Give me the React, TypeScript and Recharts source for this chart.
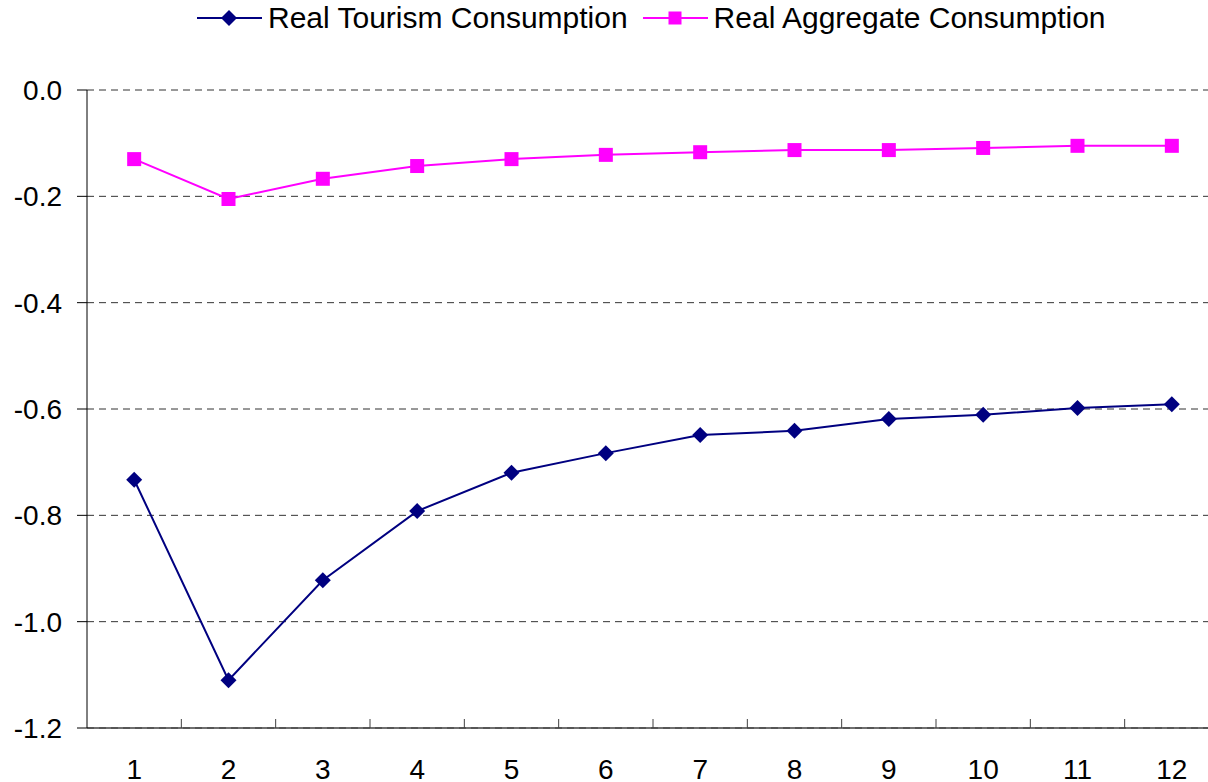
import { LineChart, Line, XAxis, YAxis, CartesianGrid } from "recharts"

const periods = [1, 2, 3, 4, 5, 6, 7, 8, 9, 10, 11, 12]
const tourism = [-0.733, -1.11, -0.922, -0.792, -0.72, -0.683, -0.649, -0.641, -0.619, -0.611, -0.598, -0.591]
const aggregate = [-0.13, -0.205, -0.167, -0.143, -0.13, -0.122, -0.117, -0.113, -0.113, -0.109, -0.105, -0.105]
const yTicks = [-1.2, -1.0, -0.8, -0.6, -0.4, -0.2, 0]
const xTicks = [0.5, 1, 1.5, 2, 2.5, 3, 3.5, 4, 4.5, 5, 5.5, 6, 6.5, 7, 7.5, 8, 8.5, 9, 9.5, 10, 10.5, 11, 11.5, 12, 12.5]

const data = periods.map((p, i) => ({ period: p, tourism: tourism[i], aggregate: aggregate[i] }))

const FONT = "'Liberation Sans', Arial, sans-serif"
const NAVY = "#000080"
const PINK = "#FF00FF"

const Diamond = (props: any) => {
  const { cx, cy } = props
  if (cx == null || cy == null) return null
  return <path d={`M${cx},${cy - 8} L${cx + 8},${cy} L${cx},${cy + 8} L${cx - 8},${cy} Z`} fill={NAVY} />
}

const Square = (props: any) => {
  const { cx, cy } = props
  if (cx == null || cy == null) return null
  return <rect x={cx - 7} y={cy - 7} width={14} height={14} fill={PINK} />
}

const XTick = (props: any) => {
  const { x, y, payload } = props
  const v = payload.value
  if (!Number.isInteger(v)) {
    if (v === 0.5) return null
    return <line x1={x} x2={x} y1={y} y2={y - 9} stroke="#404040" strokeWidth={1} />
  }
  return (
    <text x={x} y={y + 31} dy="0.71em" textAnchor="middle" fontSize={28} fill="#000" fontFamily={FONT}>
      {v}
    </text>
  )
}

function LegendItem({ color, marker, label }: { color: string; marker: "diamond" | "square"; label: string }) {
  return (
    <div style={{ display: "flex", alignItems: "center" }}>
      <svg width={65} height={20}>
        <line x1={0} x2={65} y1={10} y2={10} stroke={color} strokeWidth={2} />
        {marker === "diamond" ? (
          <path d="M32,2 L40,10 L32,18 L24,10 Z" fill={color} />
        ) : (
          <rect x={25.5} y={3.5} width={13} height={13} fill={color} />
        )}
      </svg>
      <span style={{ marginLeft: 6, fontSize: 30, fontFamily: FONT, color: "#000", whiteSpace: "nowrap" }}>{label}</span>
    </div>
  )
}

export default function App() {
  return (
    <div style={{ position: "absolute", left: 0, top: 0, width: 1208, height: 782, overflow: "hidden", background: "#fff" }}>
      <div style={{ position: "absolute", left: 197, top: 1, display: "flex", gap: 15 }}>
        <LegendItem color={NAVY} marker="diamond" label="Real Tourism Consumption" />
        <LegendItem color={PINK} marker="square" label="Real Aggregate Consumption" />
      </div>
      <LineChart width={1220} height={782} data={data} margin={{ top: 90, right: 1, bottom: 0, left: 0 }}>
        <CartesianGrid horizontal vertical={false} stroke="#333" strokeDasharray="7 5" />
        <XAxis
          dataKey="period"
          type="number"
          domain={[0.5, 12.5]}
          ticks={xTicks}
          interval={0}
          height={54}
          tickSize={0}
          tickMargin={0}
          tickLine={false}
          axisLine={{ stroke: "#404040", strokeWidth: 1.5 }}
          tick={<XTick />}
        />
        <YAxis
          domain={[-1.2, 0]}
          ticks={yTicks}
          interval={0}
          width={87}
          tickSize={10}
          tickMargin={15}
          tickFormatter={(v: number) => v.toFixed(1)}
          tickLine={{ stroke: "#000" }}
          axisLine={{ stroke: "#000" }}
          tick={{ fontSize: 28, fill: "#000", fontFamily: FONT }}
        />
        <Line
          dataKey="tourism"
          stroke={NAVY}
          strokeWidth={2}
          dot={<Diamond />}
          activeDot={false}
          isAnimationActive={false}
        />
        <Line
          dataKey="aggregate"
          stroke={PINK}
          strokeWidth={2}
          dot={<Square />}
          activeDot={false}
          isAnimationActive={false}
        />
      </LineChart>
    </div>
  )
}
